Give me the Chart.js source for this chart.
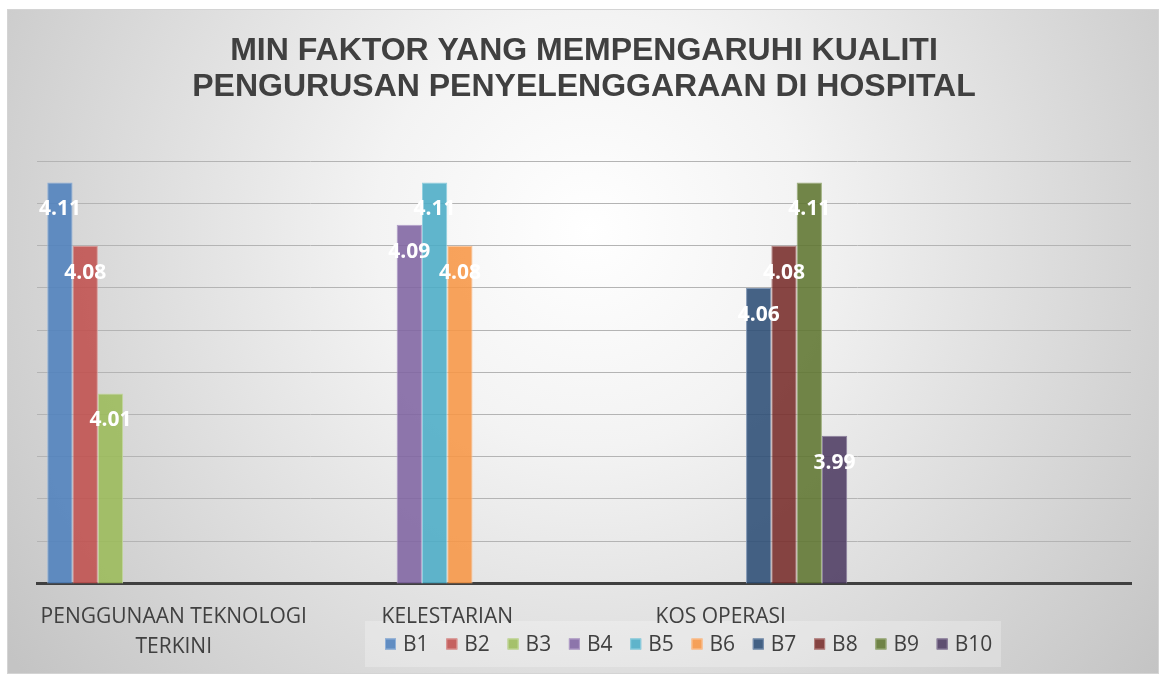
<!DOCTYPE html>
<html>
<head>
<meta charset="utf-8">
<script src="https://cdn.jsdelivr.net/npm/chart.js@4.4.1/dist/chart.umd.min.js"></script>
<style>
  html, body { margin: 0; padding: 0; background: #fff; }
  #wrap { position: relative; width: 1161px; height: 675px; }
</style>
</head>
<body>
<div id="wrap"><canvas id="chart" width="1161" height="675"></canvas></div>
<script>
// categories (4th slot is empty, like the Excel source)
const categories = [['PENGGUNAAN TEKNOLOGI', 'TERKINI'], 'KELESTARIAN', 'KOS OPERASI', ''];
const seriesNames = ['B1', 'B2', 'B3', 'B4', 'B5', 'B6', 'B7', 'B8', 'B9', 'B10'];

const b1Values = [4.11, null, null, null];
const b2Values = [4.08, null, null, null];
const b3Values = [4.01, null, null, null];
const b4Values = [null, 4.09, null, null];
const b5Values = [null, 4.11, null, null];
const b6Values = [null, 4.08, null, null];
const b7Values = [null, null, 4.06, null];
const b8Values = [null, null, 4.08, null];
const b9Values = [null, null, 4.11, null];
const b10Values = [null, null, 3.99, null];

const yMin = 3.92;
const yMax = 4.12;
const yStep = 0.02;

const seriesValues = [b1Values, b2Values, b3Values, b4Values, b5Values,
  b6Values, b7Values, b8Values, b9Values, b10Values];

// office-ish palette, slightly see-through
const fills = ['rgba(79,129,189,0.88)', 'rgba(192,80,77,0.88)', 'rgba(155,187,89,0.88)',
  'rgba(128,100,162,0.88)', 'rgba(75,172,198,0.88)', 'rgba(247,150,70,0.88)',
  'rgba(44,77,117,0.88)', 'rgba(119,44,42,0.88)', 'rgba(95,117,48,0.88)', 'rgba(77,59,98,0.88)'];
const edges = ['#8fb0d8', '#dc9a98', '#c5da9e', '#b3a0c9', '#93d0e0', '#fbc59a',
  '#7f95b3', '#b78482', '#9fb07f', '#8f829f'];

const FONT = "'Open Sans', 'Liberation Sans', sans-serif";

const backgroundPlugin = {
  id: 'bg',
  beforeDraw(chart) {
    const ctx = chart.ctx;
    ctx.save();
    ctx.fillStyle = '#ffffff';
    ctx.fillRect(0, 0, chart.width, chart.height);
    const g = ctx.createRadialGradient(590, 230, 0, 590, 230, 720);
    g.addColorStop(0, '#ffffff');
    g.addColorStop(0.3, '#f3f3f3');
    g.addColorStop(1, '#c4c4c4');
    ctx.fillStyle = g;
    ctx.fillRect(7, 9, 1152, 665);
    ctx.strokeStyle = '#d4d4d4';
    ctx.lineWidth = 1;
    ctx.strokeRect(7.5, 9.5, 1151, 664);
    // legend panel sits under the axis labels
    ctx.fillStyle = 'rgba(255,255,255,0.25)';
    ctx.fillRect(365, 621, 636, 46);
    ctx.restore();
  }
};

// white value labels inside the top of each bar
const valueLabelPlugin = {
  id: 'valueLabels',
  afterDatasetsDraw(chart) {
    const ctx = chart.ctx;
    ctx.save();
    ctx.font = "bold 21px " + FONT;
    ctx.fillStyle = '#ffffff';
    ctx.textAlign = 'center';
    ctx.textBaseline = 'middle';
    chart.data.datasets.forEach((ds, i) => {
      const meta = chart.getDatasetMeta(i);
      meta.data.forEach((bar, j) => {
        const v = ds.data[j];
        if (v === null || v === undefined) return;
        ctx.fillText(v.toFixed(2), bar.x, bar.y + 27);
      });
    });
    ctx.restore();
  }
};

// legend drawn by hand so it can sit off-centre like the original
const legendPlugin = {
  id: 'customLegend',
  afterDraw(chart) {
    const ctx = chart.ctx;
    ctx.save();
    ctx.font = "21px " + FONT;
    ctx.textBaseline = 'middle';
    ctx.textAlign = 'left';
    chart.data.datasets.forEach((ds, i) => {
      const x = 385 + i * 61.3;
      const y = 644;
      ctx.fillStyle = ds.backgroundColor;
      ctx.fillRect(x, y - 5.5, 11, 11);
      ctx.strokeStyle = ds.borderColor;
      ctx.lineWidth = 1;
      ctx.strokeRect(x + 0.5, y - 5, 10, 10);
      ctx.fillStyle = '#404040';
      ctx.fillText(ds.label, x + 18, y + 1);
    });
    ctx.restore();
  }
};

new Chart(document.getElementById('chart'), {
  type: 'bar',
  data: {
    labels: categories,
    datasets: seriesNames.map((name, i) => ({
      label: name,
      data: seriesValues[i],
      backgroundColor: fills[i],
      borderColor: edges[i],
      borderWidth: 1,
      categoryPercentage: 0.925,
      barPercentage: 1
    }))
  },
  options: {
    responsive: false,
    animation: false,
    layout: { padding: { left: 37, right: 30, top: 0, bottom: 0 } },
    plugins: {
      legend: { display: false },
      tooltip: { enabled: false },
      title: {
        display: true,
        text: ['MIN FAKTOR YANG MEMPENGARUHI KUALITI', 'PENGURUSAN PENYELENGGARAAN DI HOSPITAL'],
        color: '#404040',
        font: { family: "'Liberation Sans', Arial, sans-serif", size: 32, weight: 'bold', lineHeight: 1.13 },
        padding: { top: 33, bottom: 56 }
      }
    },
    scales: {
      x: {
        grid: { display: false, drawTicks: false },
        border: { display: true, color: '#404040', width: 3 },
        ticks: {
          color: '#404040',
          padding: 19,
          maxRotation: 0,
          autoSkip: false,
          font: { family: FONT, size: 21, lineHeight: 1.42 }
        },
        afterFit(scale) {
          // pull the axis a little lower, the labels overlap the legend area as in the source
          scale.height -= 6;
        }
      },
      y: {
        min: yMin,
        max: yMax,
        grid: { color: '#b4b4b4', lineWidth: 1, drawTicks: false },
        border: { display: false },
        ticks: { display: false, stepSize: yStep }
      }
    }
  },
  plugins: [backgroundPlugin, valueLabelPlugin, legendPlugin]
});
</script>
</body>
</html>
